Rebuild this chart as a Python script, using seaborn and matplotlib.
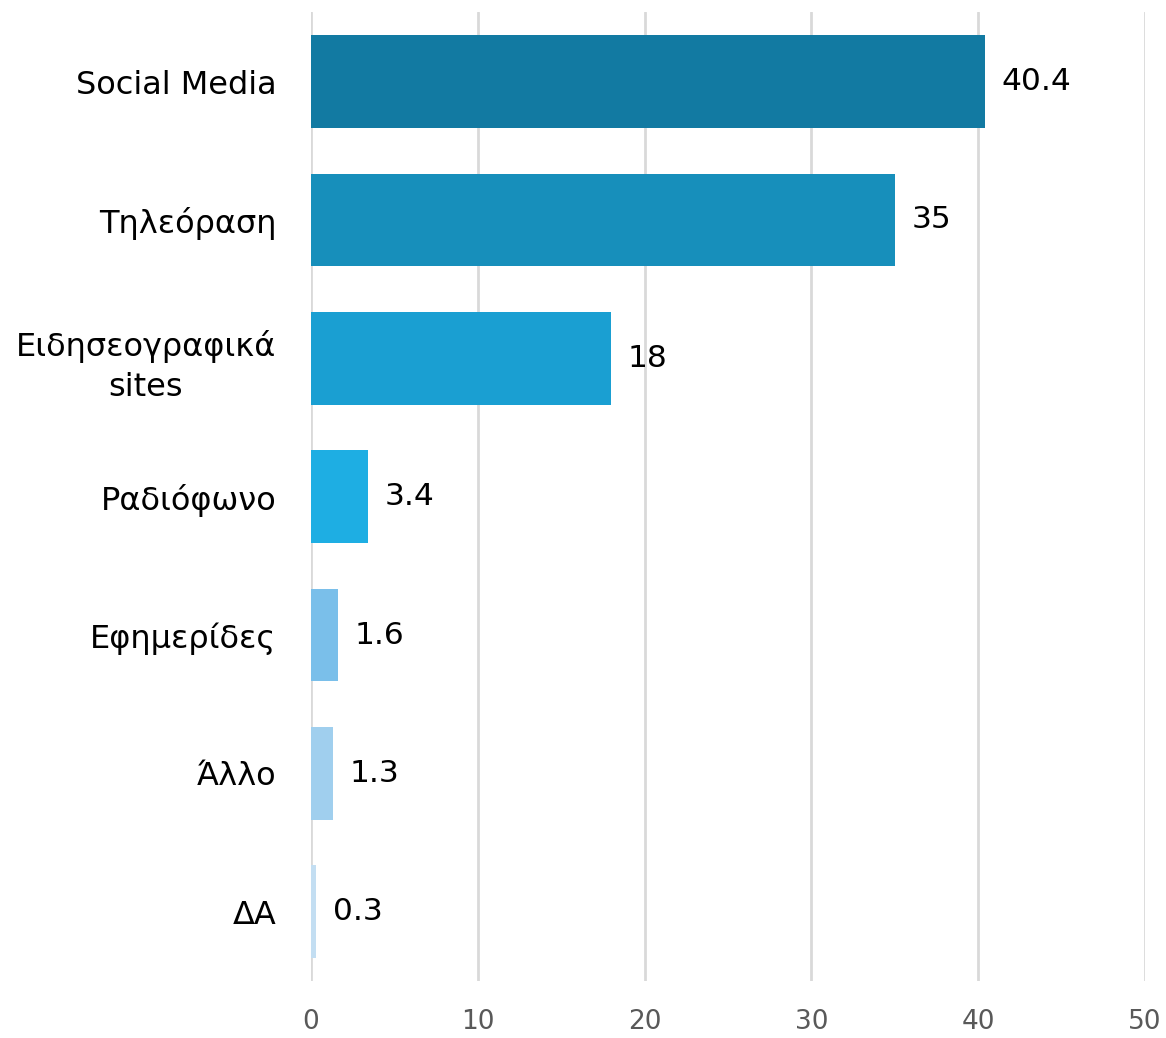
import matplotlib
matplotlib.use('Agg')
import matplotlib.pyplot as plt
import seaborn as sns
import pandas as pd

# ── data ──────────────────────────────────────────────────────────────
categories = ['Social Media', 'Τηλεόραση', 'Ειδησεογραφικά\nsites', 'Ραδιόφωνο',
              'Εφημερίδες', 'Άλλο', 'ΔΑ']
values = [40.4, 35, 18, 3.4, 1.6, 1.3, 0.3]
value_labels = ['40.4', '35', '18', '3.4', '1.6', '1.3', '0.3']
bar_colors = ['#127AA2', '#178FBB', '#1A9FD2', '#1EAEE3', '#7ABFEA', '#A0CFEE', '#C3DEF2']
x_ticks = [0, 10, 20, 30, 40, 50]

df = pd.DataFrame({'cat': categories, 'val': values})

sns.set_style('white')
plt.rcParams['font.family'] = ['DejaVu Sans']

fig = plt.figure(figsize=(11.66, 10.38), dpi=100)
ax = fig.add_axes([0.2667, 0.055, 0.7153, 0.933])

sns.barplot(data=df, x='val', y='cat', hue='cat', palette=bar_colors,
            saturation=1, orient='h', width=0.67, legend=False, ax=ax,
            linewidth=0, zorder=3)

for i, (v, lab) in enumerate(zip(values, value_labels)):
    ax.annotate(lab, xy=(v, i), xytext=(12, 0), textcoords='offset points',
                va='center', ha='left', fontsize=22.5, color='#000000')

ax.set_xlim(0, 50)
ax.set_ylim(len(categories) - 0.5, -0.5)
ax.set_xticks(x_ticks)
ax.set_xticklabels([str(t) for t in x_ticks])
ax.xaxis.grid(True, color='#D9D9D9', lw=2, zorder=0)
ax.yaxis.grid(False)
for sp in ax.spines.values():
    sp.set_visible(False)
ax.tick_params(axis='y', length=0, pad=25, labelsize=23, labelcolor='#000000')
ax.tick_params(axis='x', length=0, pad=20, labelsize=19, labelcolor='#595959')
for t in ax.get_yticklabels():
    t.set_multialignment('center')
    t.set_linespacing(1.4)
ax.set_xlabel('')
ax.set_ylabel('')

plt.savefig('out.png', dpi=100, facecolor='white')
plt.close()
